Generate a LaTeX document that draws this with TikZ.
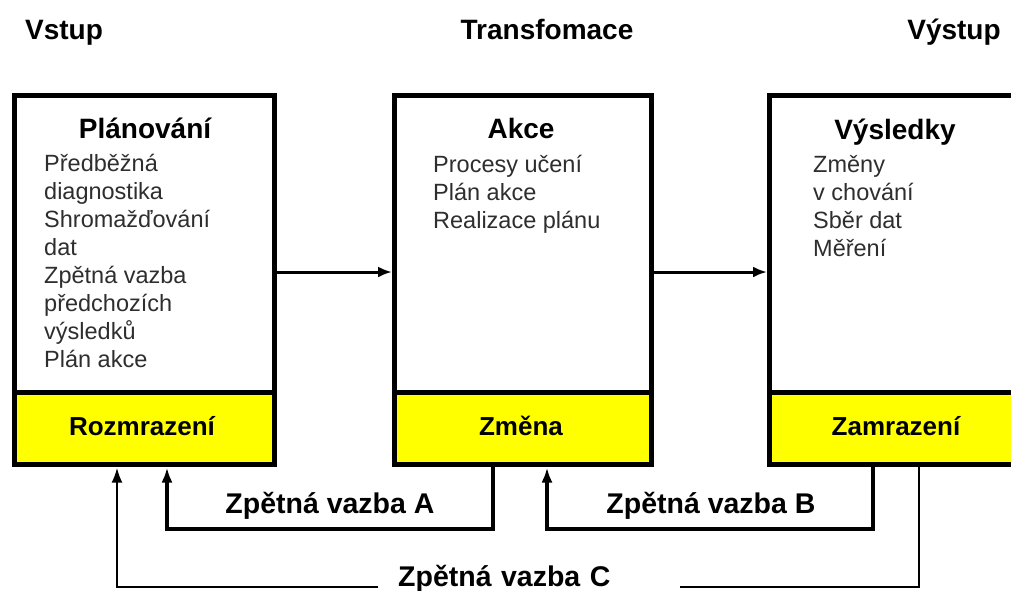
\documentclass[tikz,border=0pt]{standalone}
\usepackage{fontspec}
\setmainfont{Liberation Sans}
\usetikzlibrary{arrows.meta}
\definecolor{boxyellow}{HTML}{FFFF00}
\definecolor{itemgray}{HTML}{2E2E2E}
\tikzset{
  x=1pt, y=-1pt,
  upperbox/.style={draw, line width=4.5pt, fill=white, anchor=north west, inner sep=0pt, minimum width=#1, minimum height=369pt},
  yellowbox/.style={draw, line width=4.5pt, fill=boxyellow, anchor=north west, inner sep=0pt, minimum width=#1, minimum height=72pt},
  header/.style={font=\fontsize{28}{34}\selectfont\bfseries, anchor=base, inner sep=0pt},
  boxhead/.style={font=\fontsize{28}{34}\selectfont\bfseries, anchor=base, inner sep=0pt},
  item/.style={font=\fontsize{23.5}{28}\selectfont, text=itemgray, anchor=base west, inner sep=0pt},
  ylabel/.style={font=\fontsize{26}{30}\selectfont\bfseries, anchor=base, inner sep=0pt},
  fblabel/.style={font=\fontsize{28.5}{34}\selectfont\bfseries, anchor=base, inner sep=0pt},
  conn/.style={line width=3pt, -{Latex[length=14pt,width=11pt]}},
  fb/.style={line width=4pt, -{Latex[length=15pt,width=11pt]}},
  fbthin/.style={line width=2.6pt},
}
\begin{document}
\begin{tikzpicture}
\useasboundingbox (0,0) rectangle (1011,590);
\fill[white] (0,0) rectangle (1011,590);

% headers
\node[header] (hin) at (64,39) {Vstup};
\node[header] (htr) at (547,39) {Transfomace};
\node[header] (hout) at (954,39) {Výstup};

% boxes
\node[upperbox=260pt] (b1) at (12,93) {};
\node[upperbox=257pt] (b2) at (392,93) {};
\node[upperbox=260pt] (b3) at (767,93) {};
\node[yellowbox=260pt] (y1) at (12,390) {};
\node[yellowbox=257pt] (y2) at (392,390) {};
\node[yellowbox=260pt] (y3) at (767,390) {};

% box headings
\node[boxhead] (t1) at (145,138) {Plánování};
\node[boxhead] (t2) at (521,138) {Akce};
\node[boxhead] (t3) at (895,139) {Výsledky};

% box 1 items
\node[item] (i11) at (44,171) {Předběžná};
\node[item] (i12) at (44,199) {diagnostika};
\node[item] (i13) at (44,227) {Shromažďování};
\node[item] (i14) at (44,255) {dat};
\node[item] (i15) at (44,283) {Zpětná vazba};
\node[item] (i16) at (44,311) {předchozích};
\node[item] (i17) at (44,339) {výsledků};
\node[item] (i18) at (44,367) {Plán akce};

% box 2 items
\node[item] (i21) at (433,172) {Procesy učení};
\node[item] (i22) at (433,200) {Plán akce};
\node[item] (i23) at (433,228) {Realizace plánu};

% box 3 items
\node[item] (i31) at (813,172) {Změny};
\node[item] (i32) at (813,200) {v chování};
\node[item] (i33) at (813,228) {Sběr dat};
\node[item] (i34) at (813,256) {Měření};

% yellow labels
\node[ylabel] (r1) at (142,435) {Rozmrazení};
\node[ylabel] (r2) at (521,435) {Změna};
\node[ylabel] (r3) at (896,435) {Zamrazení};

% forward arrows
\coordinate (m1) at (0,272);
\draw[conn] (b1.east |- m1) -- (b2.west |- m1);
\draw[conn] (b2.east |- m1) -- (b3.west |- m1);

% feedback A
\coordinate (aR) at (493,529);
\coordinate (aL) at (167,529);
\draw[fb] (y2.south -| aR) -- (aR) -- (aL) -- ([yshift=-1pt]y1.south -| aL);
\node[fblabel] (la) at (330,513) {Zpětná vazba A};

% feedback B
\coordinate (bR) at (873,529);
\coordinate (bL) at (547,529);
\draw[fb] (y3.south -| bR) -- (bR) -- (bL) -- ([yshift=-1pt]y2.south -| bL);
\node[fblabel] (lb) at (711,513) {Zpětná vazba B};

% feedback C
\coordinate (cR) at (919,587);
\coordinate (cL) at (117,587);
\node[font=\fontsize{28.5}{34}\selectfont\bfseries, anchor=base west, inner xsep=20pt, inner ysep=0pt, text width=262pt, align=left] (lc) at (378,586) {Zpětná vazba C};
\draw[fbthin] (y3.south -| cR) -- (cR) -- (lc.east |- cR);
\draw[fbthin, -{Latex[length=15pt,width=11pt]}] (lc.west |- cL) -- (cL) -- ([yshift=-1pt]y1.south -| cL);
\end{tikzpicture}
\end{document}
